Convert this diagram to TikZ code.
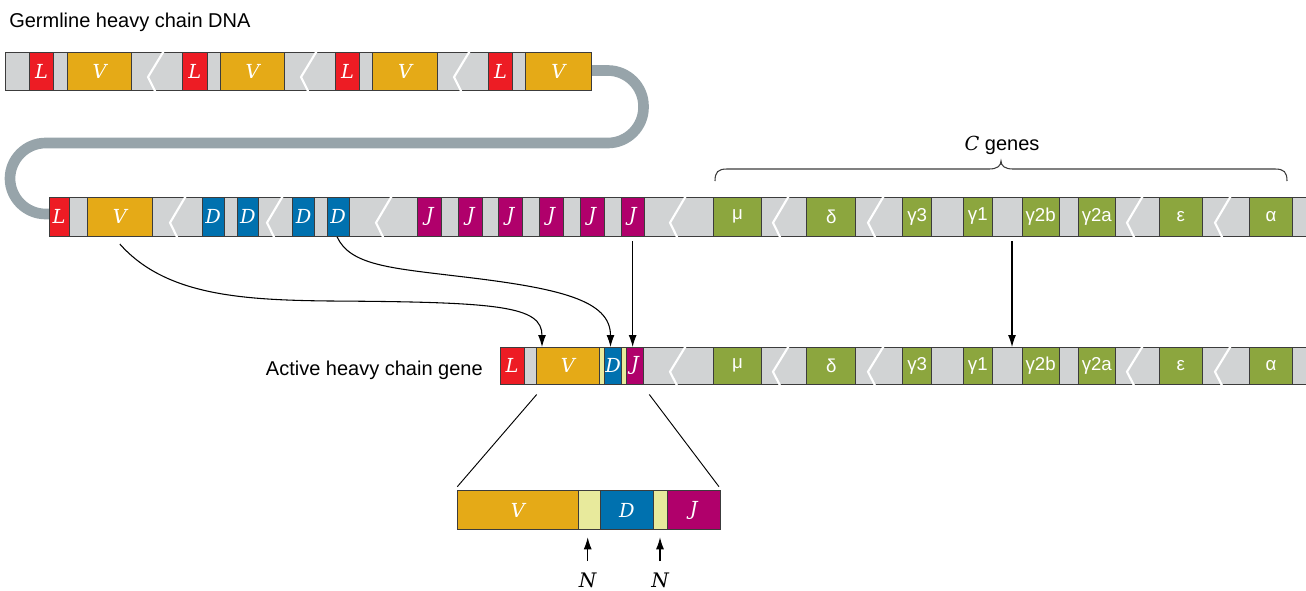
\documentclass[tikz,border=0pt]{standalone}
\usepackage{fontspec}
\setmainfont{Liberation Sans}
\newfontfamily\serifit{DejaVu Serif}
\usetikzlibrary{arrows.meta,calc}
\definecolor{gbg}{HTML}{D1D3D4}
\definecolor{lred}{HTML}{ED1C24}
\definecolor{vora}{HTML}{E5AA17}
\definecolor{dblu}{HTML}{0071AF}
\definecolor{jmag}{HTML}{B0006B}
\definecolor{cgrn}{HTML}{8CA63E}
\definecolor{nyel}{HTML}{E8EA9C}
\definecolor{tubec}{HTML}{97A4AA}
\definecolor{edgec}{HTML}{3C3C3C}
\newcommand\segm[7]{\node[#6,minimum width={(#3-#2)*0.75pt},minimum height={(#5-#4)*0.75pt}] (#1) at ({(#2+#3)/2},{(#4+#5)/2}) {#7};}
\newcommand\gstrip[4]{\fill[gbg] (#1,#3) rectangle (#2,#4);
  \draw[edgec,line width=0.75pt] (#1,#3) -- (#2,#3) (#1,#4) -- (#2,#4);}
\newcommand\brkline[3]{\draw[brkst] ({#1+17},{#2-3}) -- (#1,{#2+0.66*(#3-#2)}) -- ({#1+8},{#3+3});}
\begin{document}
\begin{tikzpicture}[x=0.75pt,y=-0.75pt,
 seg/.style={draw=edgec,line width=0.75pt,inner sep=0pt,outer sep=0pt,text=white,font=\fontsize{14.5}{16}\serifit\itshape},
 lb/.style={seg,fill=lred}, vb/.style={seg,fill=vora}, db/.style={seg,fill=dblu},
 jb/.style={seg,fill=jmag}, cb/.style={seg,fill=cgrn,font=\fontsize{14}{17}\selectfont},
 nb/.style={seg,fill=nyel},
 brkst/.style={white,line width=1.6pt},
 arr/.style={-{Latex[length=9pt,width=6pt]},line width=0.8pt,black},
 lbl/.style={font=\fontsize{15}{18}\selectfont,inner sep=0pt},
 nlbl/.style={anchor=base,inner sep=0pt,font=\fontsize{15}{17}\serifit\itshape},
 tubest/.style={tubec,line width=8pt,rounded corners=26.8pt}]
\useasboundingbox (0,0) rectangle (1306,590);

% tube
\draw[tubest] (585,70.5) -- (643.5,70.5) -- (643.5,143) -- (10,143) -- (10,214) -- (55,214);

% title
\node[lbl,anchor=base west] (title) at (9,27) {Germline heavy chain DNA};

% top row
\gstrip{5.3}{591}{52}{90}
\draw[edgec,line width=0.75pt] (5.3,52) -- (5.3,90);
\brkline{148}{52}{90}\brkline{301}{52}{90}\brkline{454}{52}{90}
\segm{tL1}{29.7}{53.3}{52}{90}{lb}{L}
\segm{tV1}{67.3}{131.7}{52}{90}{vb}{V}
\segm{tL2}{182.7}{207}{52}{90}{lb}{L}
\segm{tV2}{220.3}{284.7}{52}{90}{vb}{V}
\segm{tL3}{335.7}{359.3}{52}{90}{lb}{L}
\segm{tV3}{372.7}{437.7}{52}{90}{vb}{V}
\segm{tL4}{488.7}{512.3}{52}{90}{lb}{L}
\segm{tV4}{525.7}{591}{52}{90}{vb}{V}

% brace
\draw[line width=0.8pt,edgec] (715,181) .. controls (715,172) and (718,169) .. (727,169) -- (989,169)
  .. controls (997,169) and (1001,166) .. (1001,161) .. controls (1001,166) and (1005,169) .. (1013,169)
  -- (1275,169) .. controls (1284,169) and (1287,172) .. (1287,181);
\node[lbl,anchor=base] (cgenes) at (1002,150) {{\fontsize{14.5}{17}\serifit\itshape C} genes};

% row 2
\gstrip{49.3}{1320}{197}{236}
\foreach \b in {170,267,376,670,773,868,1127,1215}{\brkline{\b}{197}{236}}
\segm{rL}{49.3}{69}{197}{236}{lb}{L}
\segm{rV}{87.3}{152.3}{197}{236}{vb}{V}
\segm{rD1}{202.3}{224}{197}{236}{db}{D}
\segm{rD2}{237}{258.7}{197}{236}{db}{D}
\segm{rD3}{292.7}{314.3}{197}{236}{db}{D}
\segm{rD4}{327.3}{349}{197}{236}{db}{D}
\segm{rJ1}{417.7}{441.7}{197}{236}{jb}{J}
\segm{rJ2}{458.7}{482.7}{197}{236}{jb}{J}
\segm{rJ3}{498.7}{522.3}{197}{236}{jb}{J}
\segm{rJ4}{539.7}{563}{197}{236}{jb}{J}
\segm{rJ5}{580.3}{604.3}{197}{236}{jb}{J}
\segm{rJ6}{621}{644.3}{197}{236}{jb}{J}
\segm{rmu}{713.3}{761.7}{197}{236}{cb}{μ}
\segm{rde}{806.7}{855.7}{197}{236}{cb}{δ}
\segm{rg3}{902.7}{931.7}{197}{236}{cb}{γ3}
\segm{rg1}{963.3}{992.3}{197}{236}{cb}{γ1}
\segm{rg2b}{1022.3}{1059}{197}{236}{cb}{γ2b}
\segm{rg2a}{1078.3}{1115.3}{197}{236}{cb}{γ2a}
\segm{rep}{1159.3}{1202.3}{197}{236}{cb}{ε}
\segm{ral}{1249.3}{1292.7}{197}{236}{cb}{α}

% active row
\node[lbl,anchor=base east] (alabel) at (483,375) {Active heavy chain gene};
\gstrip{500}{1320}{347}{384.5}
\foreach \b in {670,773,868,1127,1215}{\brkline{\b}{347}{384.5}}
\segm{aL}{500}{524}{347}{384.5}{lb}{L}
\segm{aV}{536.7}{599}{347}{384.5}{vb}{V}
\segm{aN1}{599}{604.3}{347}{384.5}{nb}{}
\segm{aD}{604.3}{621.7}{347}{384.5}{db}{D}
\segm{aN2}{621.7}{626.7}{347}{384.5}{nb}{}
\segm{aJ}{626.7}{643.3}{347}{384.5}{jb}{J}
\segm{amu}{713.3}{761.7}{347}{384.5}{cb}{μ}
\segm{ade}{806.7}{855.7}{347}{384.5}{cb}{δ}
\segm{ag3}{902.7}{931.7}{347}{384.5}{cb}{γ3}
\segm{ag1}{963.3}{992.3}{347}{384.5}{cb}{γ1}
\segm{ag2b}{1022.3}{1059}{347}{384.5}{cb}{γ2b}
\segm{ag2a}{1078.3}{1115.3}{347}{384.5}{cb}{γ2a}
\segm{aep}{1159.3}{1202.3}{347}{384.5}{cb}{ε}
\segm{aal}{1249.3}{1292.7}{347}{384.5}{cb}{α}

% bottom enlarged
\segm{bV}{457.3}{578.3}{490.7}{529.3}{vb}{V}
\segm{bN1}{578.3}{600}{490.7}{529.3}{nb}{}
\segm{bD}{600}{653.7}{490.7}{529.3}{db}{D}
\segm{bN2}{653.7}{667.3}{490.7}{529.3}{nb}{}
\segm{bJ}{667.3}{720}{490.7}{529.3}{jb}{J}

% connectors
\draw[arr] ($(rV.south)+(0,8)$) .. controls (165,295) and (240,300) .. (330,301)
  .. controls (500,302) and (542,306) .. ($(aV.north west)+(5.3,0)$);
\draw[arr] ($(rD4.south)+(-1,1)$) .. controls (350,265) and (390,268) .. (456,276)
  .. controls (560,288) and (610.5,300) .. ($(aD.north)+(-2.5,0)$);
\draw[arr] ($(rJ6.south)+(0,5)$) -- (rJ6.south |- aJ.north);
\coordinate (cs) at (1012,241);
\coordinate (ce) at (1012,347);
\draw[arr] (cs) -- (ce);

\draw[line width=0.7pt] ($(aV.south west)+(0,10)$) -- ($(bV.north west)+(0,-4)$);
\draw[line width=0.7pt] ($(aJ.south east)+(6,10)$) -- ($(bJ.north east)+(-1,-4)$);

\node[nlbl] (n1) at (587.7,587) {N};
\node[nlbl] (n2) at (660,587) {N};
\draw[arr] ($(n1.north)+(0,-11)$) -- ($(n1.north |- bN1.south)+(0,8)$);
\draw[arr] ($(n2.north)+(0,-11)$) -- ($(n2.north |- bN2.south)+(0,8)$);
\end{tikzpicture}
\end{document}
